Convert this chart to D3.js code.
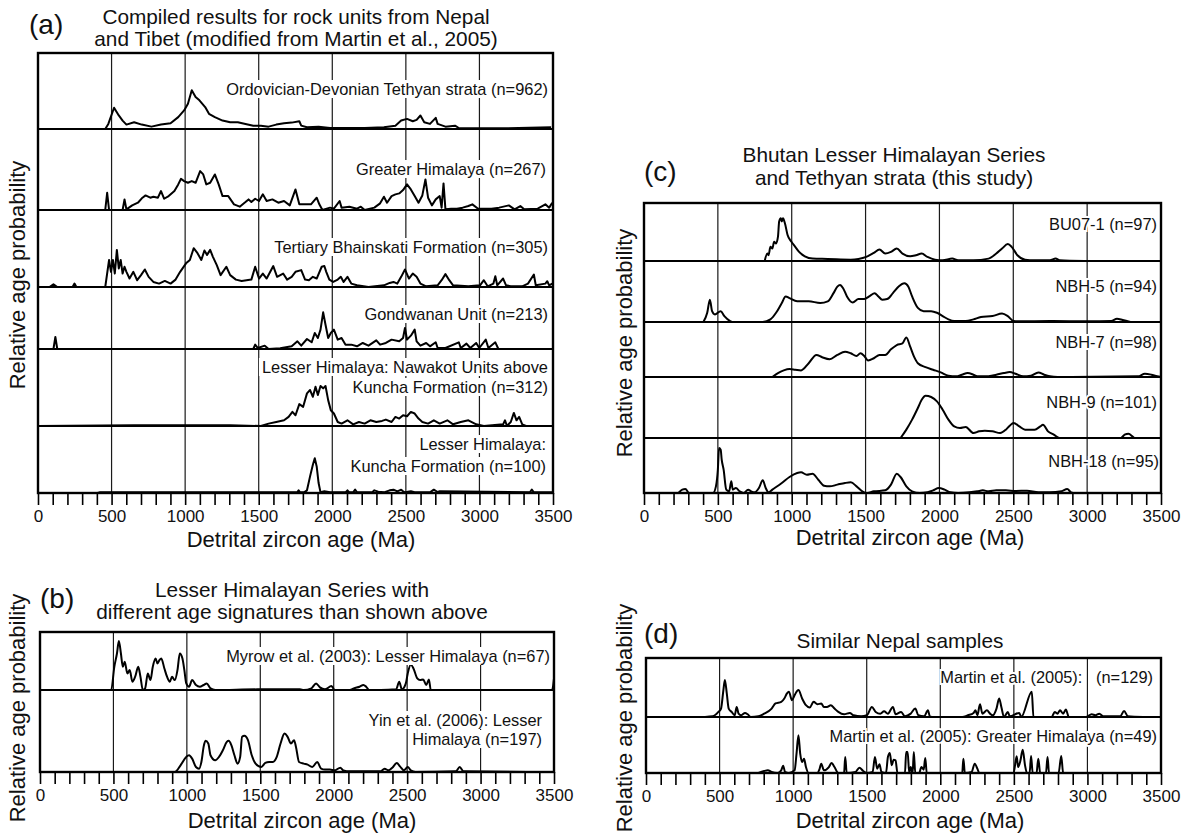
<!DOCTYPE html>
<html><head><meta charset="utf-8">
<script src="https://cdn.jsdelivr.net/npm/d3@7"></script>
<style>
body{margin:0;background:#fff}
svg{display:block}
text{font-family:"Liberation Sans",Arial,Helvetica,sans-serif;fill:#111}
</style>
</head><body>
<svg id="chart" width="1184" height="835"></svg>
<script>
// ---------- tick values ----------
const minorTicks = d3.range(0, 3501, 100);
const majorTicks = [0, 500, 1000, 1500, 2000, 2500, 3000, 3500];
const gridAges = [500, 1000, 1500, 2000, 2500, 3000];

// ---------- series: [age (Ma), relative probability] ----------
const ordovicianDevonian = [[0,0],[457,0],[478,.067],[517,.28],[549,.178],[575,.111],[601,.058],[653,.089],[705,.058],[771,.031],[836,.058],[901,.076],[953,.156],[993,.244],[1019,.333],[1045,.511],[1071,.422],[1097,.378],[1136,.289],[1162,.2],[1202,.156],[1254,.111],[1306,.089],[1358,.089],[1410,.067],[1463,.044],[1515,.044],[1567,.031],[1619,.058],[1672,.076],[1724,.084],[1776,.102],[1789,.044],[1828,.022],[1907,.031],[1985,.013],[2090,.013],[2220,.013],[2351,.022],[2429,.044],[2468,.111],[2508,.133],[2547,.102],[2573,.12],[2599,.178],[2625,.089],[2664,.067],[2703,.147],[2716,.067],[2769,.031],[2834,.044],[2860,.013],[2925,.009],[3134,.009],[3265,.013],[3487,.022]];
const greaterHimalaya = [[0,0],[457,0],[470,.213],[483,0],[575,0],[588,.131],[601,.008],[640,.057],[679,.09],[710,.152],[731,.18],[763,.152],[784,.164],[815,.152],[836,.234],[857,.139],[888,.172],[927,.234],[953,.316],[972,.385],[993,.357],[1019,.336],[1045,.357],[1071,.336],[1102,.48],[1123,.439],[1144,.316],[1170,.336],[1202,.439],[1228,.316],[1254,.172],[1293,.172],[1332,.07],[1371,.041],[1410,.098],[1431,.131],[1450,.098],[1476,.139],[1502,.111],[1528,.193],[1554,.111],[1593,.131],[1633,.09],[1672,.111],[1711,.057],[1750,.254],[1776,.07],[1815,.07],[1855,.07],[1894,.152],[1912,.07],[1933,0],[1985,.029],[2011,.016],[2050,.111],[2063,.029],[2116,.041],[2168,.016],[2194,.041],[2220,0],[2286,.029],[2325,.082],[2351,.164],[2372,.09],[2403,.172],[2429,.193],[2455,.205],[2481,.246],[2508,.316],[2534,.254],[2560,.172],[2586,.09],[2612,.18],[2633,.377],[2651,.152],[2677,.057],[2703,.131],[2730,.172],[2743,.029],[2756,.328],[2769,.008],[2808,.016],[2847,.016],[2886,.029],[2925,.049],[2952,.07],[2991,.016],[3030,.016],[3082,.016],[3134,.029],[3200,.057],[3239,.008],[3278,.049],[3304,.008],[3396,.016],[3448,.07],[3474,.029],[3495,.09]];
const bhainskati = [[0,0],[78,0],[105,.035],[131,0],[235,0],[248,.044],[261,0],[457,0],[483,.351],[496,.197],[509,.351],[522,.175],[536,.482],[549,.241],[562,.351],[575,.175],[588,.263],[601,.197],[622,.11],[648,.197],[674,.088],[700,.154],[726,.228],[752,.132],[784,.066],[823,.044],[862,.079],[901,.044],[935,.096],[966,.197],[1006,.307],[1032,.351],[1058,.504],[1084,.439],[1110,.351],[1131,.474],[1149,.417],[1170,.482],[1188,.395],[1215,.285],[1241,.154],[1280,.263],[1306,.154],[1345,.096],[1384,.079],[1450,.096],[1476,.263],[1502,.11],[1528,.175],[1554,.11],[1599,.272],[1625,.132],[1666,.175],[1693,.096],[1724,.132],[1750,.197],[1789,.219],[1815,.096],[1841,.088],[1868,.132],[1894,.11],[1928,.263],[1946,.272],[1959,.197],[1980,.096],[2006,.066],[2037,.096],[2058,.132],[2077,.066],[2103,.132],[2129,.044],[2168,.022],[2246,0],[2351,.022],[2390,.053],[2416,.066],[2442,.044],[2468,.132],[2494,.228],[2521,.11],[2547,.175],[2573,.132],[2599,.044],[2638,.009],[2716,.022],[2743,.088],[2769,.167],[2795,.088],[2821,.022],[2925,.009],[3004,.022],[3030,.088],[3056,.009],[3095,.044],[3108,.14],[3121,.022],[3161,.11],[3181,.022],[3213,.009],[3291,.009],[3330,.044],[3370,.162],[3383,.022],[3448,.044],[3461,.075],[3474,.022],[3495,.044]];
const gondwanan = [[0,0],[105,0],[118,.194],[131,0],[1463,0],[1476,.07],[1494,.016],[1541,.054],[1567,0],[1646,.011],[1724,.043],[1763,.124],[1789,.054],[1828,.161],[1860,.108],[1881,.258],[1902,.177],[1920,.312],[1938,.591],[1954,.392],[1972,.177],[1990,.258],[2011,.312],[2037,.151],[2063,.177],[2090,.07],[2129,.07],[2168,.043],[2207,.097],[2246,.054],[2299,.14],[2325,.07],[2364,.097],[2403,.151],[2455,.124],[2481,.177],[2494,.339],[2508,.151],[2534,.215],[2560,.312],[2573,.124],[2599,.054],[2638,.097],[2664,.043],[2703,.108],[2716,.016],[2769,.016],[2860,.108],[2873,.016],[2912,.086],[2938,.016],[2978,.097],[2999,.016],[3043,.151],[3061,.016],[3108,.108],[3129,0],[3500,0]];
const nawakot = [[0,0],[653,.009],[1306,.009],[1515,0],[1567,.031],[1619,.052],[1672,.074],[1703,.118],[1729,.183],[1750,.14],[1776,.284],[1802,.249],[1828,.424],[1849,.467],[1868,.38],[1886,.511],[1902,.402],[1920,.52],[1938,.489],[1954,.52],[1972,.336],[1990,.205],[2011,.162],[2037,.052],[2063,.031],[2103,.074],[2142,.022],[2181,.052],[2220,.031],[2259,.074],[2299,.052],[2338,.066],[2364,.083],[2403,.052],[2429,.118],[2455,.096],[2481,.14],[2508,.127],[2534,.183],[2560,.162],[2586,.096],[2612,.052],[2651,.031],[2690,.074],[2730,.031],[2782,.074],[2821,.022],[2873,.052],[2925,.074],[2978,.022],[3030,0],[3161,.022],[3174,.074],[3187,0],[3213,.052],[3234,.17],[3252,.074],[3270,.118],[3291,.022],[3317,0],[3500,0]];
const kuncha = [[0,0],[405,0],[418,.01],[1567,.01],[1763,.015],[1771,.04],[1781,.01],[1808,.01],[1828,.04],[1849,.248],[1868,.421],[1881,.52],[1894,.396],[1907,.149],[1920,.01],[1946,.025],[1985,.01],[2090,.01],[2103,.04],[2116,.01],[2142,.01],[2155,.05],[2168,.01],[2272,.01],[2286,.04],[2312,.02],[2351,.01],[2390,.04],[2416,.05],[2442,.025],[2468,.05],[2481,.025],[2494,.01],[2534,.025],[2560,.01],[2664,.01],[2690,.05],[2716,.015],[2730,.025],[3343,.01],[3356,.05],[3370,.01],[3500,.01]];

const myrow = [[0,0],[485,0],[506,.4],[524,.629],[537,.846],[551,.629],[564,.4],[577,.486],[595,.286],[611,.343],[629,.143],[648,.229],[669,.4],[684,.229],[700,0],[716,.029],[734,.286],[752,.171],[768,.4],[787,.543],[800,.457],[813,.514],[826,.543],[847,.371],[865,.229],[884,.143],[899,.229],[918,.171],[936,.343],[952,.629],[970,.543],[983,.343],[996,.114],[1015,.057],[1036,.171],[1062,.086],[1088,.057],[1114,.086],[1135,.114],[1161,.029],[1193,0],[1481,.011],[1770,.011],[1796,0],[1848,.029],[1880,.114],[1906,.046],[1940,.011],[1985,.069],[2006,0],[2110,0],[2137,.029],[2176,.057],[2202,.086],[2221,.057],[2242,0],[2320,0],[2425,.011],[2446,.143],[2464,.011],[2491,.114],[2504,.286],[2525,.44],[2543,.371],[2569,.2],[2588,.171],[2609,.183],[2630,.086],[2648,.183],[2661,0],[3487,0],[3500,.2]];
const yin = [[0,0],[918,0],[957,.082],[996,.184],[1015,.204],[1036,.163],[1062,.061],[1083,.041],[1101,.143],[1114,.306],[1127,.38],[1146,.347],[1161,.204],[1193,.143],[1219,.184],[1245,.265],[1272,.367],[1285,.38],[1303,.327],[1324,.204],[1345,.102],[1363,.184],[1376,.429],[1392,.441],[1416,.388],[1442,.204],[1468,.102],[1507,.061],[1534,.11],[1560,.122],[1586,.122],[1612,.184],[1638,.347],[1665,.469],[1686,.429],[1709,.347],[1730,.388],[1743,.306],[1764,.122],[1796,.102],[1822,.09],[1854,.061],[1888,.122],[1914,.041],[1940,.029],[1974,.029],[2006,.02],[2045,.053],[2066,.02],[2110,.008],[2320,.008],[2346,.041],[2373,.02],[2399,.053],[2430,.11],[2451,.069],[2478,.02],[2504,.061],[2525,.02],[2556,0],[2831,.008],[2858,.061],[2884,.008],[3500,0]];

const bu071 = [[817,0],[835,.128],[843,.099],[856,.244],[869,.215],[881,.331],[894,.302],[907,.419],[915,.68],[926,.738],[933,.68],[941,.738],[954,.651],[972,.448],[998,.331],[1024,.244],[1050,.157],[1089,.081],[1141,.041],[1244,.035],[1400,.023],[1452,.035],[1504,.07],[1556,.14],[1594,.198],[1633,.128],[1672,.157],[1711,.215],[1750,.128],[1802,.081],[1841,.099],[1880,.128],[1919,.07],[1970,.023],[2022,.012],[2087,.041],[2126,.012],[2230,.012],[2333,.041],[2385,.128],[2424,.215],[2463,.291],[2489,.244],[2528,.099],[2580,.023],[2644,.012],[2748,.012],[2787,.041],[2813,.012],[2981,0]];
const nbh5 = [[402,0],[428,.151],[446,.366],[461,.177],[480,.124],[519,.177],[544,.097],[583,.016],[596,0],[804,0],[856,.043],[894,.151],[933,.312],[959,.419],[985,.392],[1037,.339],[1115,.339],[1193,.312],[1244,.339],[1283,.473],[1309,.581],[1327,.608],[1348,.554],[1374,.419],[1413,.32],[1452,.376],[1491,.376],[1530,.43],[1561,.473],[1587,.419],[1613,.366],[1646,.376],[1685,.473],[1724,.581],[1763,.634],[1789,.581],[1815,.419],[1854,.231],[1893,.177],[1944,.177],[1983,.151],[2022,.097],[2061,.043],[2100,.016],[2178,.016],[2230,.043],[2281,.081],[2359,.097],[2424,.14],[2463,.097],[2502,.016],[2541,.011],[2748,.016],[3007,.011],[3163,.016],[3202,.054],[3241,.032],[3293,0]];
const nbh7 = [[869,0],[907,.072],[946,.12],[985,.144],[1024,.132],[1063,.12],[1115,.251],[1167,.401],[1206,.359],[1257,.323],[1309,.401],[1361,.461],[1400,.431],[1439,.383],[1465,.431],[1491,.383],[1517,.299],[1556,.341],[1594,.401],[1633,.401],[1672,.503],[1711,.581],[1750,.611],[1776,.72],[1802,.551],[1828,.371],[1854,.251],[1906,.18],[1957,.132],[2009,.084],[2061,.024],[2113,.012],[2152,.042],[2191,.072],[2230,.042],[2256,.012],[2307,.012],[2385,.042],[2437,.072],[2476,.09],[2515,.06],[2567,.012],[2619,.024],[2670,.084],[2709,.042],[2748,.012],[2800,0],[3344,.012],[3391,.06],[3435,.042],[3474,.012],[3500,0]];
const nbh9 = [[1737,0],[1776,.137],[1815,.301],[1854,.492],[1880,.628],[1906,.694],[1944,.672],[1983,.601],[2022,.464],[2061,.301],[2100,.191],[2139,.164],[2178,.18],[2230,.082],[2269,.109],[2307,.12],[2359,.109],[2411,.082],[2450,.137],[2476,.202],[2502,.246],[2541,.191],[2580,.137],[2644,.137],[2683,.191],[2701,.219],[2735,.109],[2774,.055],[2813,0],[3228,0],[3254,.055],[3280,.071],[3306,.027],[3319,0]];
const nbh18 = [[233,0],[259,.061],[280,.073],[306,0],[467,0],[487,.121],[500,.424],[508,.818],[519,.788],[526,.606],[539,.424],[557,.061],[576,.03],[591,.212],[601,.061],[622,.091],[648,.03],[674,0],[705,.061],[726,.03],[747,.012],[778,.091],[804,.23],[824,.091],[843,.012],[869,.061],[933,.182],[985,.291],[1037,.364],[1063,.376],[1102,.333],[1141,.352],[1180,.242],[1219,.133],[1257,.121],[1309,.152],[1361,.182],[1400,.194],[1439,.121],[1478,.03],[1504,0],[1556,.03],[1633,.048],[1672,.152],[1711,.352],[1737,.291],[1776,.121],[1815,.03],[1867,0],[1919,.012],[1957,.048],[1996,.091],[2035,.061],[2074,.012],[2126,0],[2204,.012],[2256,.03],[2294,.048],[2333,.03],[2385,.048],[2450,.048],[2515,.036],[2593,.042],[2670,.012],[2748,.012],[2826,.03],[2865,.073],[2891,.012],[2904,0]];

const martin129 = [[401,0],[453,.011],[492,.086],[510,.143],[526,.457],[536,.629],[549,.4],[562,.143],[582,.086],[603,.029],[616,.171],[629,.057],[647,.029],[673,.069],[691,.046],[712,0],[764,.011],[803,.057],[854,.143],[880,.229],[919,.257],[940,.314],[958,.4],[971,.429],[992,.286],[1010,.371],[1036,.457],[1061,.314],[1087,.2],[1113,.16],[1139,.257],[1165,.217],[1191,.229],[1209,.171],[1230,.171],[1256,.2],[1281,.143],[1307,.086],[1346,.046],[1385,.069],[1411,.029],[1463,.011],[1501,.029],[1535,.171],[1561,.086],[1592,.057],[1618,.097],[1644,.057],[1678,.171],[1696,.046],[1734,.086],[1760,.011],[1799,.057],[1830,.143],[1851,.029],[1890,.011],[1916,.114],[1929,.011],[1955,0],[2149,0],[2188,.029],[2226,.069],[2239,.114],[2252,.029],[2270,.217],[2286,.057],[2317,.114],[2338,.057],[2356,.029],[2382,.143],[2400,.314],[2415,.171],[2433,0],[2459,.086],[2472,.011],[2537,.069],[2550,0],[2622,.429],[2633,0],[2757,0],[2778,.086],[2796,.057],[2814,.114],[2835,.057],[2853,.126],[2874,0],[2990,0],[3029,.046],[3055,.029],[3081,.057],[3107,.011],[3223,.011],[3249,.103],[3275,.011],[3378,0]];
const martinGH = [[764,0],[803,.036],[828,.048],[854,.018],[893,0],[919,.048],[932,.131],[945,.018],[971,0],[1010,.048],[1023,.345],[1036,.673],[1048,.345],[1061,.196],[1074,.256],[1087,.107],[1105,0],[1165,0],[1178,.06],[1191,.167],[1209,.048],[1243,.107],[1261,.179],[1281,.107],[1307,0],[1346,0],[1354,.286],[1364,0],[1424,.018],[1450,.095],[1476,.036],[1501,0],[1540,.018],[1556,.286],[1571,.077],[1587,.155],[1600,.018],[1631,0],[1644,.286],[1657,.357],[1670,.137],[1683,.238],[1696,.226],[1709,0],[1760,0],[1768,.375],[1778,.375],[1789,0],[1799,.107],[1812,0],[1820,.375],[1830,0],[1856,0],[1872,.107],[1887,.06],[1898,.268],[1908,0],[2149,0],[2157,.256],[2167,0],[2213,.018],[2234,.167],[2252,.077],[2265,0],[2498,0],[2519,.298],[2529,.107],[2545,.226],[2560,.417],[2576,.137],[2589,0],[2607,0],[2617,.304],[2628,0],[2654,0],[2666,.256],[2679,0],[2718,0],[2729,.286],[2739,0],[2804,0],[2822,.304],[2835,0],[2990,0]];

// ---------- texts ----------
const labelsA = [["Ordovician-Devonian Tethyan strata (n=962)"],["Greater Himalaya (n=267)"],["Tertiary Bhainskati Formation (n=305)"],["Gondwanan Unit (n=213)"],["Lesser Himalaya: Nawakot Units above","Kuncha Formation (n=312)"],["Lesser Himalaya:","Kuncha Formation (n=100)"]];
const labelsB = [["Myrow et al. (2003): Lesser Himalaya (n=67)"],["Yin et al. (2006): Lesser","Himalaya (n=197)"]];
const labelsC = [["BU07-1 (n=97)"],["NBH-5 (n=94)"],["NBH-7 (n=98)"],["NBH-9 (n=101)"],["NBH-18 (n=95)"]];
const labelsD = [["Martin et al. (2005):   (n=129)"],["Martin et al. (2005): Greater Himalaya (n=49)"]];
const titlesA = ["Compiled results for rock units from Nepal","and Tibet (modified from Martin et al., 2005)"];
const titlesB = ["Lesser Himalayan Series with","different age signatures than shown above"];
const titlesC = ["Bhutan Lesser Himalayan Series","and Tethyan strata (this study)"];
const titlesD = ["Similar Nepal samples"];
const xTitle = "Detrital zircon age (Ma)";
const yTitle = "Relative age probability";

// ---------- layout ----------
const panels = [
  {tag:"(a)", tagX:29, tagY:34, x0:38, x1:553, bounds:[53,129,210,287,349,426,493], smooth:false,
   series:[ordovicianDevonian,greaterHimalaya,bhainskati,gondwanan,nawakot,kuncha],
   labels:labelsA, labelRight:[548,546,548,548,548,546], labelBase:[[95],[175],[253],[320],[373,393],[450,472]], bg:"rect",
   titles:titlesA, titleX:296, titleBase:[24,46], xTitleX:301, xTitleY:547, yTitleX:25, yTitleY:275},
  {tag:"(b)", tagX:40, tagY:608, x0:40, x1:554, bounds:[632,690,772], smooth:true,
   series:[myrow,yin], labels:labelsB, labelRight:[550,542], labelBase:[[662],[726,745]], bg:"rect",
   titles:titlesB, titleX:292, titleBase:[597,619], xTitleX:302, xTitleY:828, yTitleX:25, yTitleY:708},
  {tag:"(c)", tagX:644, tagY:181, x0:644, x1:1161, bounds:[203,261,322,377,438,493], smooth:true,
   series:[bu071,nbh5,nbh7,nbh9,nbh18], labels:labelsC, labelRight:[1157,1157,1157,1157,1159], labelBase:[[230],[292],[348],[408],[467]], bg:"halo",
   titles:titlesC, titleX:894, titleBase:[162,185], xTitleX:910, xTitleY:545, yTitleX:632, yTitleY:343},
  {tag:"(d)", tagX:644, tagY:643, x0:646, x1:1161, bounds:[658,717,773], smooth:true,
   series:[martin129,martinGH], labels:labelsD, labelRight:[1153,1157], labelBase:[[683],[742]], bg:"halo",
   titles:titlesD, titleX:900, titleBase:[648], xTitleX:910, xTitleY:828, yTitleX:632, yTitleY:718}
];

const svg = d3.select("#chart");

panels.forEach(p => {
  const g = svg.append("g");
  const x = d3.scaleLinear().domain([0,3500]).range([p.x0,p.x1]);
  const top = p.bounds[0], bottom = p.bounds[p.bounds.length-1];

  // grid
  g.selectAll("line.grid").data(gridAges).join("line")
    .attr("x1", d=>x(d)).attr("x2", d=>x(d)).attr("y1", top).attr("y2", bottom)
    .attr("stroke","#1a1a1a").attr("stroke-width",1.2);

  // curves
  p.series.forEach((s,i) => {
    const y = d3.scaleLinear().domain([0,1]).range([p.bounds[i+1], p.bounds[i]]);
    const line = d3.line().x(d=>x(d[0])).y(d=>y(d[1]))
      .curve(p.smooth ? d3.curveMonotoneX : d3.curveLinear);
    g.append("path").datum(s).attr("d", line)
      .attr("fill","none").attr("stroke","#000").attr("stroke-width",2)
      .attr("stroke-linejoin","round");
  });

  // row separators
  g.selectAll("line.sep").data(p.bounds.slice(1,-1)).join("line")
    .attr("x1", p.x0).attr("x2", p.x1).attr("y1", d=>d).attr("y2", d=>d)
    .attr("stroke","#000").attr("stroke-width",2.2);

  // labels
  p.labels.forEach((lines,i) => {
    lines.forEach((t,j) => {
      const lg = g.append("g");
      const txt = lg.append("text").attr("x", p.labelRight[i]).attr("y", p.labelBase[i][j])
        .attr("text-anchor","end").attr("font-size",16.4).style("white-space","pre").text(t);
      if (p.bg === "rect") {
        const bb = txt.node().getBBox();
        lg.insert("rect","text").attr("x",bb.x-3).attr("y",bb.y).attr("width",bb.width+5).attr("height",bb.height)
          .attr("fill","#fff");
      } else {
        txt.attr("stroke","#fff").attr("stroke-width",4).attr("paint-order","stroke");
      }
    });
  });

  // frame
  g.append("rect").attr("x",p.x0).attr("y",top).attr("width",p.x1-p.x0).attr("height",bottom-top)
    .attr("fill","none").attr("stroke","#000").attr("stroke-width",2.4);

  // axis
  const axis = d3.axisBottom(x).tickValues(minorTicks).tickSize(12).tickSizeOuter(0).tickPadding(5)
    .tickFormat(d => majorTicks.includes(d) ? d : "");
  const ag = g.append("g").attr("transform",`translate(0,${bottom})`).call(axis);
  ag.select(".domain").remove();
  ag.selectAll(".tick line").attr("stroke","#000").attr("stroke-width",1.6);
  ag.selectAll(".tick text").attr("font-size",17).attr("fill","#111")
    .style("font-family",'"Liberation Sans",Arial,sans-serif');

  // titles
  p.titles.forEach((t,j) => {
    g.append("text").attr("x",p.titleX).attr("y",p.titleBase[j]).attr("text-anchor","middle")
      .attr("font-size",20.8).text(t);
  });
  g.append("text").attr("x",p.tagX).attr("y",p.tagY).attr("font-size",28).text(p.tag);
  g.append("text").attr("x",p.xTitleX).attr("y",p.xTitleY).attr("text-anchor","middle")
    .attr("font-size",22).text(xTitle);
  g.append("text").attr("transform",`translate(${p.yTitleX},${p.yTitleY}) rotate(-90)`)
    .attr("text-anchor","middle").attr("font-size",22).text(yTitle);
});
</script>
</body></html>
